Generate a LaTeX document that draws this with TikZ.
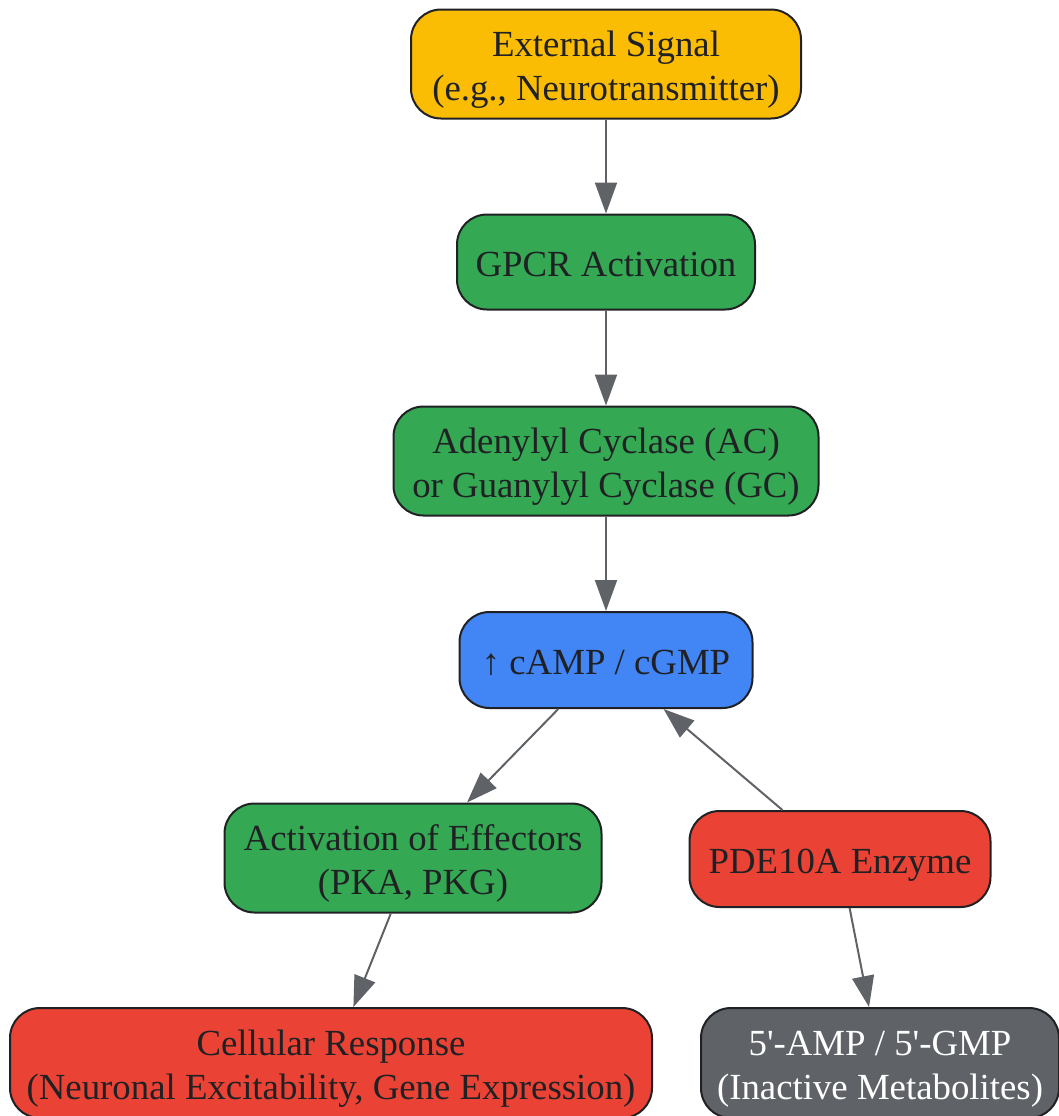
\documentclass[tikz,border=0pt]{standalone}
\usepackage{fontspec}
\setmainfont{Liberation Serif}
\usetikzlibrary{arrows.meta}
\definecolor{sigyellow}{HTML}{FBBC04}
\definecolor{stepgreen}{HTML}{34A853}
\definecolor{messblue}{HTML}{4285F4}
\definecolor{enzred}{HTML}{EA4335}
\definecolor{metgray}{HTML}{5F6368}
\definecolor{boxline}{HTML}{202124}
\newcommand{\topstrut}{\rule{0pt}{18.5pt}}
\newcommand{\botstrut}{\rule[-4pt]{0pt}{4pt}}
\begin{document}
\begin{tikzpicture}[x = .5pt, y = -.5pt,
	box/.style = {draw = boxline, line width = 1pt, rounded corners = 15pt, align = center, inner sep = 0pt, text = boxline, font = \fontsize{18.4}{22}\selectfont},
	link/.style = {draw = metgray, line width = 1pt, -{Triangle[length = 15.5pt, width = 11pt]}}]
	\useasboundingbox (0,0) rectangle (1059,1116);
	\node[box, fill = sigyellow, minimum width = 195pt, minimum height = 54.5pt] (signal) at (606,64) {\topstrut External Signal\\(e.g., Neurotransmitter)\botstrut};
	\node[box, fill = stepgreen, minimum width = 149pt, minimum height = 47.5pt] (gpcr) at (606,262) {\topstrut GPCR Activation\botstrut};
	\node[box, fill = stepgreen, minimum width = 212.5pt, minimum height = 54.5pt] (cyclase) at (606,461) {\topstrut Adenylyl Cyclase (AC)\\or Guanylyl Cyclase (GC)\botstrut};
	\node[box, fill = messblue, minimum width = 146.5pt, minimum height = 48pt] (camp) at (606,660) {\topstrut ↑ cAMP / cGMP\botstrut};
	\node[box, fill = stepgreen, minimum width = 188.5pt, minimum height = 54.5pt] (effect) at (413,858) {\topstrut Activation of Effectors\\(PKA, PKG)\botstrut};
	\node[box, fill = enzred, minimum width = 150.5pt, minimum height = 48pt] (pde) at (840,859) {\topstrut PDE10A Enzyme\botstrut};
	\node[box, fill = enzred, minimum width = 321pt, minimum height = 55pt] (response) at (331,1063) {\topstrut Cellular Response\\(Neuronal Excitability, Gene Expression)\botstrut};
	\node[box, fill = metgray, text = white, minimum width = 179pt, minimum height = 55pt] (metab) at (880,1063) {\topstrut 5\textquotesingle-AMP / 5\textquotesingle-GMP\\(Inactive Metabolites)\botstrut};
	% edges
	\draw[link] (signal) -- (gpcr);
	\draw[link] (gpcr) -- (cyclase);
	\draw[link] (cyclase) -- (camp);
	\draw[link] (camp) -- (effect);
	\draw[link] (pde) -- (camp);
	\draw[link] (effect) -- (response);
	\draw[link] (pde) -- (metab);
\end{tikzpicture}
\end{document}
